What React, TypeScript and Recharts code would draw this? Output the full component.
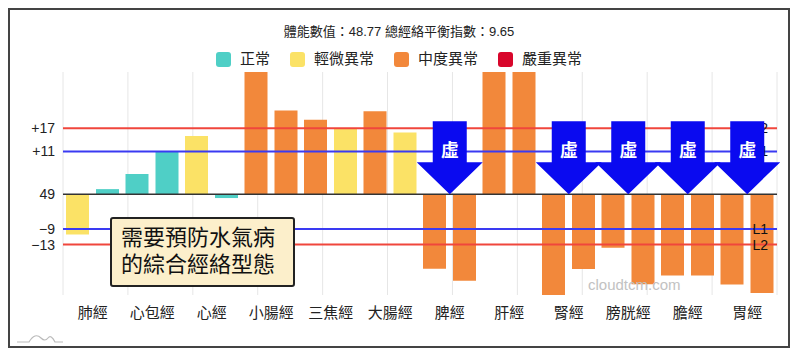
import React from 'react';
import {
  BarChart, Bar, XAxis, YAxis, CartesianGrid, ReferenceLine, ReferenceDot, Legend, Cell
} from 'recharts';

const meridians = ['肺經', '心包經', '心經', '小腸經', '三焦經', '大腸經', '脾經', '肝經', '腎經', '膀胱經', '膽經', '胃經'];
const leftValues = [-10.4, 5.2, 15.0, 31.5, 19.2, 21.4, -19.2, 31.5, -26, -13.8, -21.0, -23.3];
const rightValues = [1.3, 10.9, -1.0, 21.6, 16.9, 15.9, -22.3, 31.5, -19.3, -23.2, -21.0, -25.5];
// 0 正常, 1 輕微異常, 2 中度異常, 3 嚴重異常
const leftLevels = [1, 0, 1, 2, 2, 2, 2, 2, 2, 2, 2, 2];
const rightLevels = [0, 0, 0, 2, 1, 1, 2, 2, 2, 2, 2, 2];
const levelNames = ['正常', '輕微異常', '中度異常', '嚴重異常'];
const xuMeridians = ['脾經', '腎經', '膀胱經', '膽經', '胃經'];
const yTicks = [17, 11, 0, -9, -13];
const yTickLabels = ['+17', '+11', '49', '−9', '−13'];
const bodyScore = '48.77';
const balanceIndex = '9.65';

const levelColors = ['#4fcfc6', '#fbe266', '#f2883b', '#d8062b'];
const RED = '#f0463c';
const BLUE = '#3a3af2';
const FONT = 'Helvetica, Arial, "Liberation Sans", "Noto Sans CJK TC", sans-serif';

const data = meridians.map((name, i) => ({ name, left: leftValues[i], right: rightValues[i] }));
const gridTicks = [...meridians.map((_, i) => i), meridians.length];

const XuArrow = (props: any) => {
  const { cx, cy } = props;
  const shaftW = 34, headW = 66, shaftH = 41, headH = 32;
  const top = cy - shaftH - headH;
  const neck = cy - headH;
  const pts = [
    [cx - shaftW / 2, top], [cx + shaftW / 2, top], [cx + shaftW / 2, neck],
    [cx + headW / 2, neck], [cx, cy], [cx - headW / 2, neck], [cx - shaftW / 2, neck]
  ].map(p => p.join(',')).join(' ');
  return (
    <g>
      <polygon points={pts} fill="#0a0af0" />
      <text x={cx} y={cy - 43} textAnchor="middle" dominantBaseline="central"
        fill="#fff" fontSize={18} fontWeight="bold">虛</text>
    </g>
  );
};

const LegendBlock = () => (
  <div style={{ width: 778, textAlign: 'center', fontFamily: FONT, color: '#222' }}>
    <div style={{ fontSize: 13, lineHeight: '16px', marginTop: 14 }}>
      體能數值：{bodyScore} 總經絡平衡指數：{balanceIndex}
    </div>
    <div style={{ display: 'flex', justifyContent: 'center', marginTop: 10, fontSize: 15, lineHeight: '18px' }}>
      {levelNames.map((n, i) => (
        <div key={n} style={{ display: 'flex', alignItems: 'center', margin: '0 10px' }}>
          <span style={{ width: 15, height: 15, borderRadius: 3, background: levelColors[i], marginRight: 9, display: 'inline-block' }} />
          <span>{n}</span>
        </div>
      ))}
    </div>
  </div>
);

export default function App() {
  return (
    <div style={{
      width: 782, height: 340, border: '2px solid #444', boxSizing: 'border-box',
      position: 'relative', fontFamily: FONT, background: '#fff'
    }}>
      <BarChart width={778} height={336} data={data}
        margin={{ top: 62, right: 11, bottom: 21, left: 8 }}
        barCategoryGap={3} barGap={7}>
        <CartesianGrid xAxisId="grid" horizontal={false} stroke="#e6e6e6" />
        <XAxis xAxisId="grid" type="number" domain={[0, meridians.length]} ticks={gridTicks} hide allowDataOverflow />
        <XAxis dataKey="name" axisLine={false} tickLine={false} tickSize={0} tickMargin={12}
          height={30} interval={0} tick={{ fontSize: 15, fill: '#222' }} />
        <YAxis domain={[-26, 31.5]} ticks={yTicks} allowDataOverflow interval={0}
          tickFormatter={(v: number) => yTickLabels[yTicks.indexOf(v)]}
          axisLine={false} tickLine={false} tickSize={0} tickMargin={8} width={45}
          tick={{ fontSize: 14, fill: '#222' }} />
        <Legend verticalAlign="middle" align="center" content={() => <LegendBlock />}
          wrapperStyle={{ top: 0, left: 0, width: 778 }} />
        <Bar dataKey="left" isAnimationActive={false}>
          {data.map((d, i) => <Cell key={d.name} fill={levelColors[leftLevels[i]]} />)}
        </Bar>
        <Bar dataKey="right" isAnimationActive={false}>
          {data.map((d, i) => <Cell key={d.name} fill={levelColors[rightLevels[i]]} />)}
        </Bar>
        <ReferenceLine y={17} stroke={RED} strokeWidth={2}
          label={{ value: 'H2', position: 'insideRight', offset: 9, fontSize: 14, fill: '#111' }} />
        <ReferenceLine y={11} stroke={BLUE} strokeWidth={2}
          label={{ value: 'H1', position: 'insideRight', offset: 9, fontSize: 14, fill: '#111' }} />
        <ReferenceLine y={0} stroke="#333" strokeWidth={1.5} />
        <ReferenceLine y={-9} stroke={BLUE} strokeWidth={2}
          label={{ value: 'L1', position: 'insideRight', offset: 9, fontSize: 14, fill: '#111' }} />
        <ReferenceLine y={-13} stroke={RED} strokeWidth={2}
          label={{ value: 'L2', position: 'insideRight', offset: 9, fontSize: 14, fill: '#111' }} />
        {xuMeridians.map(m => (
          <ReferenceDot key={m} x={m} y={0} r={1} shape={XuArrow} ifOverflow="visible" zIndex={3000} />
        ))}
      </BarChart>
      <div style={{
        position: 'absolute', left: 100, top: 207, width: 185, height: 70, boxSizing: 'border-box',
        border: '2px solid #222', borderRadius: 3, background: '#fcefcb', color: '#111',
        fontSize: 22, lineHeight: '27px', padding: '5px 0 0 9px'
      }}>
        需要預防水氣病<br />的綜合經絡型態
      </div>
      <div style={{ position: 'absolute', left: 578, top: 266, fontSize: 15, color: '#c2c2c2' }}>
        cloudtcm.com
      </div>
      <svg style={{ position: 'absolute', left: 5, top: 318 }} width={50} height={20}>
        <path d="M2 14 L14 14 Q20 4 26 10 Q30 14 33 10 Q36 6 40 14 L48 14" fill="none" stroke="#bbb" strokeWidth={1.2} />
      </svg>
    </div>
  );
}
